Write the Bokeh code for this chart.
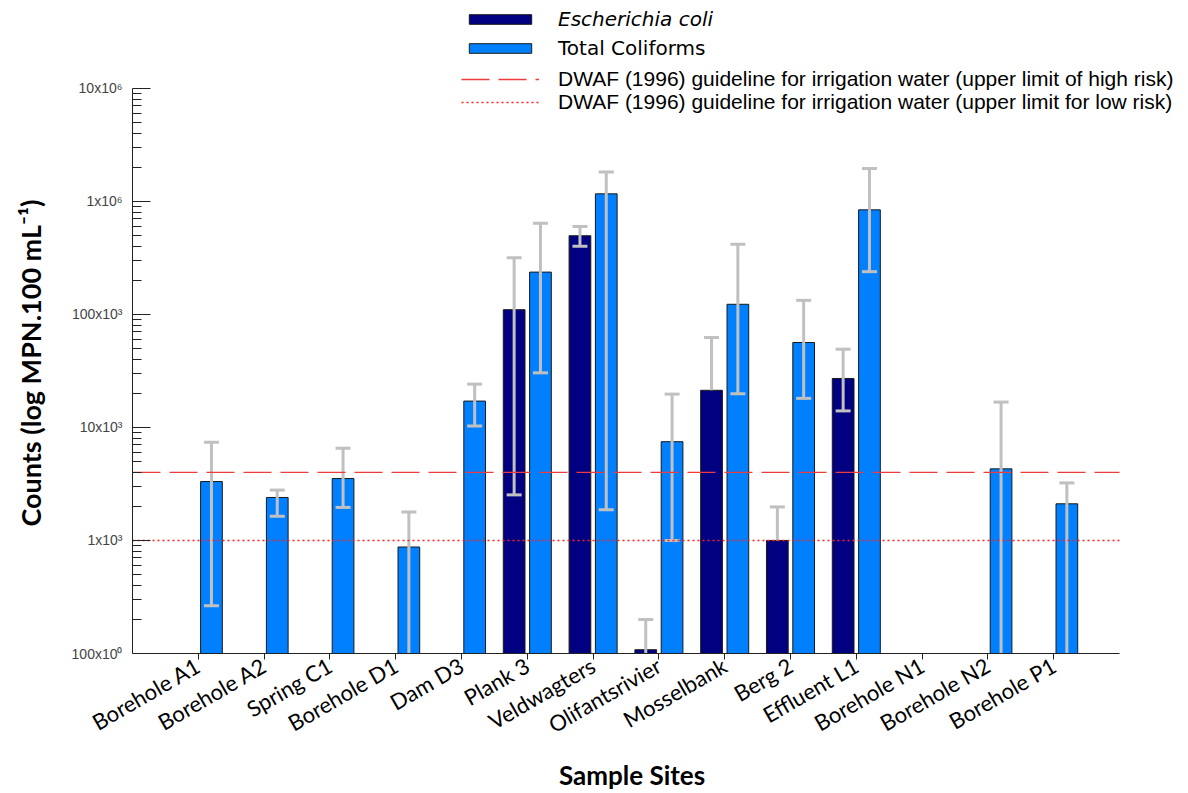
import math
from bokeh.plotting import figure
from bokeh.models import Range1d, FixedTicker, Legend, LegendItem
from bokeh.embed import file_html
from bokeh.resources import INLINE

# ---------------- data ----------------
sites = ["Borehole A1", "Borehole A2", "Spring C1", "Borehole D1", "Dam D3",
         "Plank 3", "Veldwagters", "Olifantsrivier", "Mosselbank", "Berg 2",
         "Effluent L1", "Borehole N1", "Borehole N2", "Borehole P1"]

# Escherichia coli (MPN/100 mL); None = not detected / not plotted
ecoli = [None, None, None, None, None, 110000, 496000, 108, 21300, 1000,
         27100, None, None, None]
ecoli_upper = [None, None, None, None, None, 317000, 600000, 200, 62400, 1980,
               49200, None, None, None]
# lower error limit; None = no lower whisker drawn, values < 100 fall below axis
ecoli_lower = [None, None, None, None, None, 2530, 401000, 10, None, None,
               14000, None, None, None]

# Total coliforms (MPN/100 mL)
total_coliforms = [3320, 2400, 3530, 875, 17100, 236600, 1165000, 7480, 122800,
                   56400, 841000, None, 4300, 2110]
tc_upper = [7390, 2790, 6550, 1790, 24150, 641000, 1820000, 19700, 418000,
            133100, 1948000, None, 16760, 3230]
tc_lower = [265, 1640, 1960, 10, 10290, 30400, 1870, 1000, 19850,
            18070, 238700, None, 10, 10]

guideline_high = 4000   # upper limit of high risk
guideline_low = 1000    # upper limit for low risk

y_ticks = [1e2, 1e3, 1e4, 1e5, 1e6, 1e7]
y_tick_labels = ["100x10\u2070", "1x10\u00b3", "10x10\u00b3", "100x10\u00b3",
                 "1x10\u2076", "10x10\u2076"]

# ---------------- layout / style ----------------
EC_COLOR = "#000080"
TC_COLOR = "#0080FF"
ERR_COLOR = "#C0C0C0"
BAR_W = 0.33
OFF = 0.2

Y_START = 1e2
PX_PER_DEC = 113.3
TOP_EXTRA_PX = 88
y_end = 10 ** (7 + TOP_EXTRA_PX / PX_PER_DEC)
X_START, X_END = -1, len(sites)
PX_PER_CAT = 65.8
x_view_end = X_END + 69 / PX_PER_CAT   # room on the right for the legend text

p = figure(width=1188, height=793, y_axis_type="log",
           x_range=Range1d(X_START, x_view_end), y_range=Range1d(Y_START, y_end),
           output_backend="svg", toolbar_location=None,
           min_border_left=132, min_border_right=0,
           min_border_top=0, min_border_bottom=139)
p.outline_line_color = None
p.grid.visible = False
p.background_fill_color = "white"

# bars
ec_x = [i - OFF for i, v in enumerate(ecoli) if v is not None]
ec_top = [v for v in ecoli if v is not None]
tc_x = [i + OFF for i, v in enumerate(total_coliforms) if v is not None]
tc_top = [v for v in total_coliforms if v is not None]

r_ec = p.vbar(x=ec_x, top=ec_top, bottom=Y_START, width=BAR_W,
              fill_color=EC_COLOR, line_color="#1a1a1a", line_width=1)
r_tc = p.vbar(x=tc_x, top=tc_top, bottom=Y_START, width=BAR_W,
              fill_color=TC_COLOR, line_color="#1a1a1a", line_width=1)

# error bars
def err_parts(vals, up, lo, off):
    sx, sy0, sy1, ux, uy, lx, ly = [], [], [], [], [], [], []
    for i, v in enumerate(vals):
        if v is None:
            continue
        x = i + off
        u = up[i]
        l = lo[i]
        bottom = v if l is None else max(l, Y_START * 0.98)
        sx.append(x); sy0.append(bottom); sy1.append(u)
        ux.append(x); uy.append(u)
        if l is not None and l >= Y_START:
            lx.append(x); ly.append(l)
    return sx, sy0, sy1, ux, uy, lx, ly

for vals, up, lo, off in [(ecoli, ecoli_upper, ecoli_lower, -OFF),
                          (total_coliforms, tc_upper, tc_lower, OFF)]:
    sx, sy0, sy1, ux, uy, lx, ly = err_parts(vals, up, lo, off)
    p.segment(x0=sx, y0=sy0, x1=sx, y1=sy1, line_color=ERR_COLOR, line_width=3)
    p.scatter(x=ux, y=uy, marker="dash", size=15, line_color=ERR_COLOR, line_width=3)
    p.scatter(x=lx, y=ly, marker="dash", size=15, line_color=ERR_COLOR, line_width=3)

# guideline lines
r_high = p.line(x=[X_START, X_END], y=[guideline_high, guideline_high],
                line_color="#EE3B3B", line_width=1.3, line_dash="28 9")
r_low = p.line(x=[X_START, X_END], y=[guideline_low, guideline_low],
               line_color="#FF2020", line_width=1.5, line_dash="2 3")

# axes
xa = p.xaxis[0]
xa.ticker = FixedTicker(ticks=list(range(len(sites))))
xa.major_label_overrides = {i: s for i, s in enumerate(sites)}
xa.bounds = (X_START, X_END)
xa.major_label_orientation = math.pi / 6
xa.major_label_text_font = "Lato"
xa.major_label_text_font_size = "22px"
xa.major_label_text_color = "black"
xa.major_label_standoff = 4
xa.major_tick_in = 0
xa.major_tick_out = 6
xa.minor_tick_in = 0
xa.minor_tick_out = 0
xa.axis_line_color = "#222222"
xa.major_tick_line_color = "#222222"
# trailing no-break spaces shift the centred label left (centre of the axis, not the frame)
xa.axis_label = "Sample Sites" + "\u00a0" * 9
xa.axis_label_text_font = "Lato"
xa.axis_label_text_font_style = "bold"
xa.axis_label_text_font_size = "26px"
xa.axis_label_text_color = "black"
xa.axis_label_standoff = 6

ya = p.yaxis[0]
minor = [k * 10 ** d for d in range(2, 7) for k in range(2, 10)]
ya.ticker = FixedTicker(ticks=y_ticks, minor_ticks=minor)
ya.major_label_overrides = {t: s for t, s in zip(y_ticks, y_tick_labels)}
ya.bounds = (y_ticks[0], y_ticks[-1])
ya.major_label_text_font = "Liberation Sans"
ya.major_label_text_font_size = "14px"
ya.major_label_text_color = "#444444"
ya.major_label_standoff = 10
ya.major_tick_in = 18
ya.major_tick_out = 0
ya.minor_tick_in = 9
ya.minor_tick_out = 0
ya.axis_line_color = "#222222"
ya.major_tick_line_color = "#222222"
ya.minor_tick_line_color = "#222222"
# trailing no-break spaces shift the centred label down along the axis
ya.axis_label = "Counts (log MPN.100 mL\u207b\u00b9)" + "\u00a0" * 11
ya.axis_label_text_font = "Lato"
ya.axis_label_text_font_style = "bold"
ya.axis_label_text_font_size = "27px"
ya.axis_label_text_color = "black"
ya.axis_label_standoff = 22

# legends
def make_legend(items, loc, font, size, style="normal"):
    lg = Legend(items=items, location=loc, orientation="vertical",
                glyph_width=78, glyph_height=12, label_standoff=19,
                padding=0, margin=0, spacing=0,
                border_line_color=None, background_fill_alpha=0,
                label_text_font=font, label_text_font_size=size,
                label_text_font_style=style, label_text_color="black")
    p.add_layout(lg, "center")
    return lg

make_legend([LegendItem(label="Escherichia coli", renderers=[r_ec])],
            (329, 622), "DejaVu Sans", "20px", "italic")
make_legend([LegendItem(label="Total Coliforms", renderers=[r_tc])],
            (329, 593), "DejaVu Sans", "20px")
make_legend([LegendItem(label="DWAF (1996) guideline for irrigation water (upper limit of high risk)", renderers=[r_high])],
            (329, 562), "Liberation Sans", "21px")
make_legend([LegendItem(label="DWAF (1996) guideline for irrigation water (upper limit for low risk)", renderers=[r_low])],
            (329, 539), "Liberation Sans", "21px")

open("out.html", "w").write(file_html(p, INLINE))
